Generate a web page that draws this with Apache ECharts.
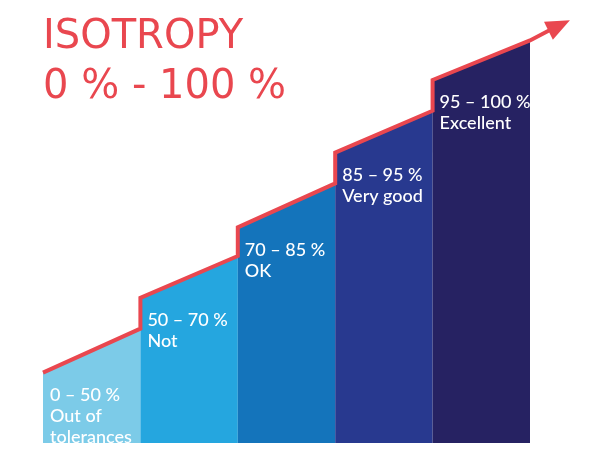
<!DOCTYPE html>
<html>
<head>
<meta charset="utf-8">
<script src="https://cdn.jsdelivr.net/npm/echarts@6/dist/echarts.min.js"></script>
<style>
html,body{margin:0;padding:0;background:#fff;}
#chart{width:600px;height:449px;}
</style>
</head>
<body>
<div id="chart"></div>
<script>
// Bands of isotropy
const ranges = ['0 – 50 %', '50 – 70 %', '70 – 85 %', '85 – 95 %', '95 – 100 %'];
const ratings = ['Out of\ntolerances', 'Not', 'OK', 'Very good', 'Excellent'];
// Column top heights (left edge / right edge), arbitrary 0-100 scale
const topStart = [16, 33, 49, 66, 82.5];
const topEnd = [26, 42.5, 59, 75.5, 91.5];
const colors = ['#7ccbe8', '#25a6df', '#1474bb', '#28398f', '#262262'];
// Arrow continuation after last column
const arrowBase = [5.2, 93.8];
const arrowTip = [5.41, 96.1];

const RED = '#e9474f';

// Build step line data from the arrays
const lineData = [];
for (let i = 0; i < topStart.length; i++) {
  lineData.push([i, topStart[i]]);
  lineData.push([i + 1, topEnd[i]]);
}
lineData.push(arrowBase);

const chart = echarts.init(document.getElementById('chart'));
chart.setOption({
  animation: false,
  backgroundColor: '#ffffff',
  title: {
    text: 'ISOTROPY\n0 % - 100 %',
    left: 38,
    top: 8,
    textStyle: {
      color: RED,
      fontFamily: 'DejaVu Sans',
      fontWeight: 'normal',
      fontSize: 40,
      lineHeight: 50
    }
  },
  grid: { left: 43, right: 21.3, top: 3, bottom: 6 },
  xAxis: { type: 'value', min: 0, max: 5.5, show: false },
  yAxis: { type: 'value', min: 0, max: 100, show: false },
  series: [
    {
      type: 'custom',
      clip: false,
      data: topStart.map((v, i) => [i, v, topEnd[i]]),
      renderItem: function (params, api) {
        const i = params.dataIndex;
        const a = api.coord([i, 0]);
        const b = api.coord([i + 1, 0]);
        const c = api.coord([i + 1, topEnd[i]]);
        const d = api.coord([i, topStart[i]]);
        return {
          type: 'group',
          children: [
            {
              type: 'polygon',
              shape: { points: [a, b, c, d] },
              style: { fill: colors[i] }
            },
            {
              type: 'text',
              style: {
                text: ranges[i] + '\n' + ratings[i],
                x: d[0] + 7,
                y: d[1] + 12,
                fill: '#ffffff',
                font: '500 18px Lato',
                lineHeight: 21,
                verticalAlign: 'top',
                align: 'left'
              }
            }
          ]
        };
      }
    },
    {
      type: 'line',
      data: lineData,
      symbol: 'none',
      clip: false,
      lineStyle: { color: RED, width: 4, join: 'miter' },
      z: 5
    },
    {
      type: 'custom',
      clip: false,
      z: 6,
      data: [[arrowTip[0], arrowTip[1]]],
      renderItem: function (params, api) {
        const tip = api.coord(arrowTip);
        const from = api.coord(arrowBase);
        let dx = tip[0] - from[0], dy = tip[1] - from[1];
        const len = Math.sqrt(dx * dx + dy * dy);
        dx /= len; dy /= len;
        const L = 24, W = 10;
        const bx = tip[0] - dx * L, by = tip[1] - dy * L;
        return {
          type: 'polygon',
          shape: { points: [tip, [bx - dy * W, by + dx * W], [bx + dy * W, by - dx * W]] },
          style: { fill: RED }
        };
      }
    }
  ]
});
</script>
</body>
</html>
